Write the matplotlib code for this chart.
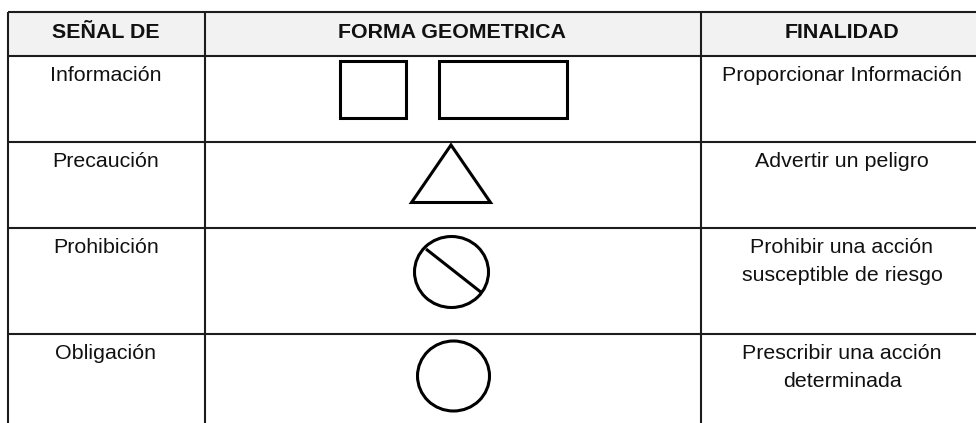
import matplotlib.pyplot as plt
from matplotlib.patches import Rectangle, Ellipse, Polygon

plt.rcParams["font.family"] = ["Liberation Sans", "DejaVu Sans"]

headers = ["SEÑAL DE", "FORMA GEOMETRICA", "FINALIDAD"]
senales = ["Información", "Precaución", "Prohibición", "Obligación"]
finalidades = [
    ["Proporcionar Información"],
    ["Advertir un peligro"],
    ["Prohibir una acción", "susceptible de riesgo"],
    ["Prescribir una acción", "determinada"],
]

# layout in pixels (figure is 976x423, axes cover all of it)
W, H = 976, 423
col_edges = [7.5, 204.5, 700.5]
col_centers = [106, 452, 842]
top = 12
row_edges = [56, 142, 228, 334]
fs = 15.4
line_col = "#1c1c1c"
shape_lw = 2.2

fig = plt.figure(figsize=(W / 100, H / 100), dpi=100)
ax = fig.add_axes([0, 0, 1, 1])
ax.set_xlim(0, W)
ax.set_ylim(H, 0)
ax.axis("off")

# header band
ax.add_patch(Rectangle((col_edges[0], top), W - col_edges[0], row_edges[0] - top,
                       facecolor="#f2f2f2", edgecolor="none", zorder=0))

# grid lines
for y in [top] + row_edges:
    ax.plot([col_edges[0], W], [y, y], color=line_col, lw=1.5, solid_capstyle="butt")
for x in col_edges:
    ax.plot([x, x], [top, H], color=line_col, lw=1.5, solid_capstyle="butt")

# header text
for cx, h in zip(col_centers, headers):
    ax.text(cx, 38, h, ha="center", va="baseline", fontsize=fs, fontweight="bold",
            color="#111111")

# body text
for i, (s, fin) in enumerate(zip(senales, finalidades)):
    base = row_edges[i] + 25
    ax.text(col_centers[0], base, s, ha="center", va="baseline", fontsize=fs, color="#111111")
    for k, line in enumerate(fin):
        ax.text(col_centers[2], base + 28 * k, line, ha="center", va="baseline",
                fontsize=fs, color="#111111")

# shapes
ax.add_patch(Rectangle((339.5, 61.5), 66, 57, fill=False, edgecolor="black", lw=shape_lw))
ax.add_patch(Rectangle((438.5, 61.5), 128, 57, fill=False, edgecolor="black", lw=shape_lw))
ax.add_patch(Polygon([(451, 145), (411.5, 202.5), (490.5, 202.5)], closed=True,
                     fill=False, edgecolor="black", lw=shape_lw, joinstyle="miter"))
ax.add_patch(Ellipse((451.5, 272), 74, 71, fill=False, edgecolor="black", lw=shape_lw))
ax.plot([426, 482], [249, 293], color="black", lw=shape_lw, solid_capstyle="butt")
ax.add_patch(Ellipse((453.5, 376), 72, 70, fill=False, edgecolor="black", lw=shape_lw))

fig.savefig("out.png", dpi=100)
